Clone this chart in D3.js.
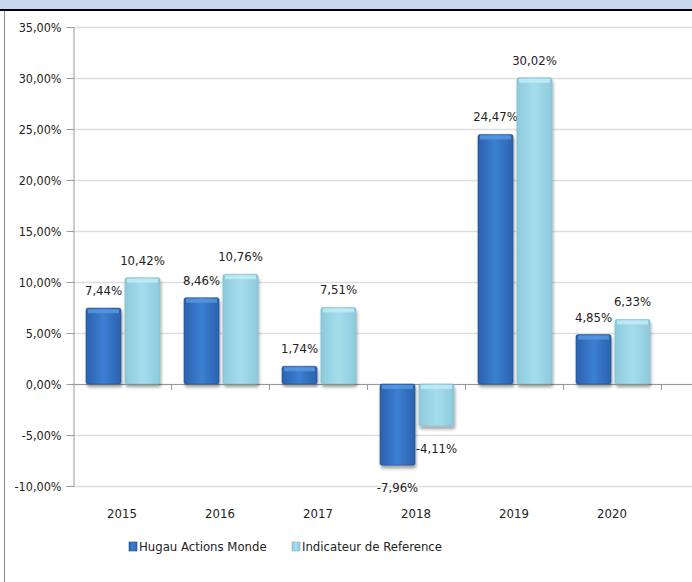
<!DOCTYPE html>
<html>
<head>
<meta charset="utf-8">
<script src="https://cdn.jsdelivr.net/npm/d3@7"></script>
<style>
  body { margin: 0; background: #fff; }
  svg text { font-family: "Liberation Sans Narrow", "DejaVu Sans Condensed", sans-serif; fill: #222; }
</style>
</head>
<body>
<div id="chart"></div>
<script>
var years = ["2015", "2016", "2017", "2018", "2019", "2020"];
var seriesNames = ["Hugau Actions Monde", "Indicateur de Reference"];
var fonds = [7.44, 8.46, 1.74, -7.96, 24.47, 4.85];
var indice = [10.42, 10.76, 7.51, -4.11, 30.02, 6.33];
var yTicks = [-10, -5, 0, 5, 10, 15, 20, 25, 30, 35];

var W = 692, H = 582;
var svg = d3.select("#chart").append("svg").attr("width", W).attr("height", H);

// header band + borders
svg.append("rect").attr("x", 0).attr("y", 0).attr("width", W).attr("height", 9).attr("fill", "#c6d9f0");
svg.append("rect").attr("x", 0).attr("y", 9).attr("width", W).attr("height", 2).attr("fill", "#000");
svg.append("line").attr("x1", 4.5).attr("x2", 4.5).attr("y1", 11).attr("y2", H).attr("stroke", "#888");

var defs = svg.append("defs");
function grad(id, c1, c2) {
  var g = defs.append("linearGradient").attr("id", id).attr("x1", 0).attr("x2", 1).attr("y1", 0).attr("y2", 0);
  g.append("stop").attr("offset", "0%").attr("stop-color", c1);
  g.append("stop").attr("offset", "50%").attr("stop-color", c2);
  g.append("stop").attr("offset", "100%").attr("stop-color", c1);
}
grad("g0", "#2b62ad", "#3b7fd3");
grad("g1", "#8ccbdc", "#a6dded");
var f = defs.append("filter").attr("id", "sh").attr("x", "-20%").attr("y", "-20%").attr("width", "140%").attr("height", "140%");
f.append("feDropShadow").attr("dx", 1).attr("dy", 3).attr("stdDeviation", 1.5).attr("flood-color", "#000").attr("flood-opacity", 0.35);

var x = d3.scaleBand().domain(years).range([73, 661]);
var xs = d3.scaleBand().domain([0, 1]).range([13, 87]).paddingInner(0.1);
var y = d3.scaleLinear().domain([-10, 35]).range([486, 27]);

// gridlines
svg.append("g").selectAll("line").data(yTicks).join("line")
  .attr("x1", 73).attr("x2", W).attr("y1", d => y(d) + 0.5).attr("y2", d => y(d) + 0.5)
  .attr("stroke", "#dedede").attr("stroke-width", 1.5);

// y axis
var yAxis = d3.axisLeft(y).tickValues(yTicks).tickSize(7).tickPadding(5)
  .tickFormat(d => d3.format(".2f")(d).replace(".", ",").replace("−", "-") + "%");
var ga = svg.append("g").attr("transform", "translate(73.5,0)").call(yAxis);
ga.select(".domain").attr("stroke", "#999");
ga.selectAll(".tick line").attr("stroke", "#999");
ga.selectAll(".tick text").attr("font-size", 12.5).attr("font-family", null);

// x axis line at 0 + category ticks
svg.append("line").attr("x1", 73).attr("x2", W).attr("y1", y(0) + 0.5).attr("y2", y(0) + 0.5).attr("stroke", "#999");
svg.append("g").selectAll("line").data(years).join("line")
  .attr("x1", d => x(d) + x.bandwidth() + 0.5).attr("x2", d => x(d) + x.bandwidth() + 0.5)
  .attr("y1", y(0)).attr("y2", y(0) + 6).attr("stroke", "#999");
svg.append("g").selectAll("text").data(years).join("text")
  .attr("x", d => x(d) + x.bandwidth() / 2).attr("y", 518)
  .attr("text-anchor", "middle").attr("font-size", 13).text(d => d);

var fmt = v => d3.format(".2f")(v).replace(".", ",").replace("−", "-") + "%";
var series = [fonds, indice];
var tops = [["#5a98e0", "#2f6cc0"], ["#c4eef8", "#9ad6e6"]];

series.forEach(function (vals, s) {
  var g = svg.append("g");
  var bars = g.selectAll("g").data(years).join("g");
  bars.append("rect")
    .attr("x", (d, i) => x(d) + xs(s))
    .attr("y", (d, i) => y(Math.max(0, vals[i])))
    .attr("width", xs.bandwidth())
    .attr("height", (d, i) => Math.abs(y(vals[i]) - y(0)))
    .attr("fill", "url(#g" + s + ")")
    .attr("stroke", s ? "#7fb7c8" : "#244f8e").attr("stroke-width", 0.6)
    .attr("rx", 2)
    .attr("filter", "url(#sh)");
  // bevel top
  bars.append("rect")
    .attr("x", (d, i) => x(d) + xs(s) + 2)
    .attr("y", (d, i) => y(Math.max(0, vals[i])) + 1)
    .attr("width", xs.bandwidth() - 4)
    .attr("height", 4)
    .attr("fill", tops[s][0]).attr("opacity", 0.8);
  bars.append("text")
    .attr("x", (d, i) => x(d) + xs(s) + xs.bandwidth() / 2)
    .attr("y", (d, i) => vals[i] >= 0 ? y(vals[i]) - 13 : y(vals[i]) + 27)
    .attr("text-anchor", "middle").attr("font-size", 13)
    .text((d, i) => fmt(vals[i]));
});

// legend
var leg = [[129, seriesNames[0]], [292, seriesNames[1]]];
leg.forEach(function (l, s) {
  svg.append("rect").attr("x", l[0]).attr("y", 542).attr("width", 8).attr("height", 9)
    .attr("fill", "url(#g" + s + ")").attr("stroke", s ? "#7fb7c8" : "#244f8e").attr("stroke-width", 0.6);
  svg.append("text").attr("x", l[0] + 10).attr("y", 551).attr("font-size", 13).text(l[1]);
});
</script>
</body>
</html>
